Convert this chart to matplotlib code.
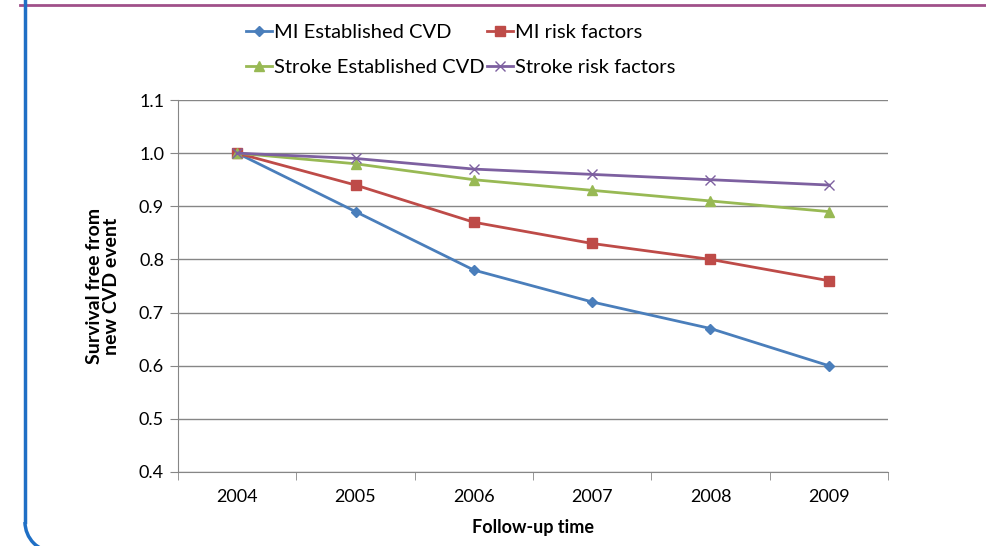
import numpy as np
import matplotlib
matplotlib.use("Agg")
import matplotlib.pyplot as plt
from matplotlib.lines import Line2D
from matplotlib.patches import Arc

years = ["2004", "2005", "2006", "2007", "2008", "2009"]
mi_est = [1.00, 0.89, 0.78, 0.72, 0.67, 0.60]
mi_risk = [1.00, 0.94, 0.87, 0.83, 0.80, 0.76]
stroke_est = [1.00, 0.98, 0.95, 0.93, 0.91, 0.89]
stroke_risk = [1.00, 0.99, 0.97, 0.96, 0.95, 0.94]

plt.rcParams['font.family'] = ['Lato', 'DejaVu Sans']

W, H = 987, 546
fig = plt.figure(figsize=(W / 100, H / 100), dpi=100)
ax = fig.add_axes([178 / W, 1 - 472 / H, 710 / W, 372 / H])

x = np.arange(len(years))
l1, = ax.plot(x, mi_est, color="#4A7EBB", lw=2, marker="D", ms=5, label="MI Established CVD")
l2, = ax.plot(x, mi_risk, color="#BE4B48", lw=2, marker="s", ms=7, label="MI risk factors")
l3, = ax.plot(x, stroke_est, color="#98B954", lw=2, marker="^", ms=7, label="Stroke Established CVD")
l4, = ax.plot(x, stroke_risk, color="#7D60A0", lw=2, marker="x", ms=7, mew=1, label="Stroke risk factors")

ax.set_xlim(-0.5, len(years) - 0.5)
ax.set_ylim(0.4, 1.1)
ax.set_yticks(np.arange(0.4, 1.11, 0.1))
ax.set_yticklabels(["%.1f" % v for v in np.arange(0.4, 1.11, 0.1)])
ax.set_xticks(x)
ax.set_xticklabels(years)
ax.set_xticks(np.arange(-0.5, len(years), 1), minor=True)
ax.tick_params(axis="x", which="major", length=0, labelsize=13, pad=12)
ax.tick_params(axis="x", which="minor", length=6, color="#868686", direction="out")
ax.tick_params(axis="y", length=6, color="#868686", direction="out", labelsize=13, pad=4)
ax.grid(axis="y", color="#868686", lw=1)
ax.set_axisbelow(True)
for s in ["top", "right"]:
    ax.spines[s].set_visible(False)
ax.spines["left"].set_color("#868686")
ax.spines["bottom"].set_color("#868686")

ax.set_xlabel("Follow-up time", fontsize=13, fontweight="bold", labelpad=10)
ax.set_ylabel("Survival free from\nnew CVD event", fontsize=14, fontweight="bold", labelpad=14, linespacing=0.95)

fig.legend([l1, l3, l2, l4], [l1.get_label(), l3.get_label(), l2.get_label(), l4.get_label()],
           loc="center", bbox_to_anchor=(461 / W, 1 - 50 / H), ncol=2, frameon=False,
           fontsize=14.5, handlelength=1.3, handletextpad=0.1, columnspacing=0.1,
           labelspacing=0.85)

# slide decoration
fig.add_artist(Line2D([20 / W, 1], [1 - 5 / H, 1 - 5 / H], color="#A0508A", lw=2))
fig.add_artist(Line2D([25 / W, 25 / W], [1, 1 - 522 / H], color="#1F6FC5", lw=2.5))
fig.add_artist(Arc((55 / W, 1 - 522 / H), 60 / W, 60 / H, theta1=180, theta2=270,
                   color="#1F6FC5", lw=2.5, transform=fig.transFigure))

fig.savefig("out.png", dpi=100)
